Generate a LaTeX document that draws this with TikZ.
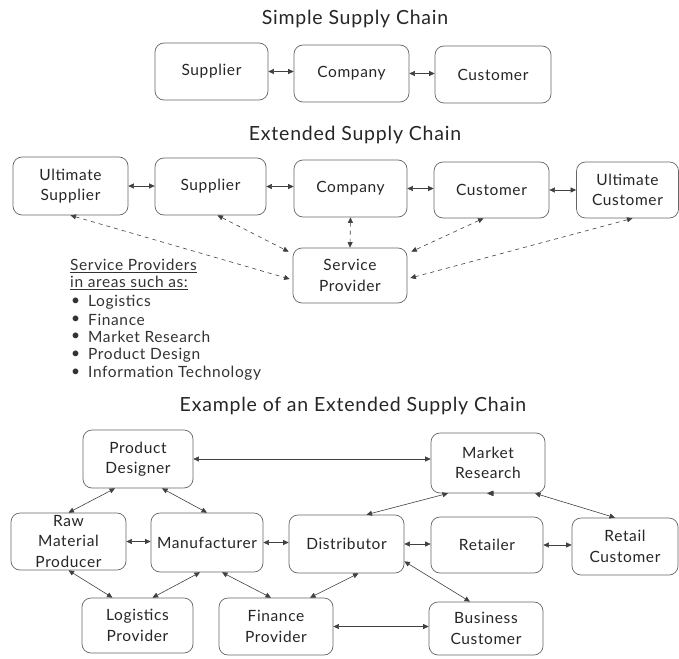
\documentclass[tikz,border=0pt]{standalone}
\usepackage{fontspec}
\setmainfont[LetterSpace=4]{Lato}
\usetikzlibrary{arrows.meta,calc}

\tikzset{
  box/.style={draw=black!60, line width=0.7pt, rounded corners=9pt, align=center,
    font=\fontsize{15.5}{20.5}\selectfont, text=black!85, inner sep=0pt},
  title/.style={font=\fontsize{19.5}{22}\selectfont, text=black!85},
  listtext/.style={font=\fontsize{15.5}{18}\selectfont, text=black!80, anchor=west, inner sep=0pt},
  link/.style={line width=0.6pt, draw=black!75,
    {Triangle[length=5.5pt,width=5pt]}-{Triangle[length=5.5pt,width=5pt]}},
  dlink/.style={link, dash pattern=on 4pt off 4pt},
}

\begin{document}
\begin{tikzpicture}[x=1pt,y=-1pt]
\useasboundingbox (0,0) rectangle (679,658);
\fill[white] (0,0) rectangle (679,658);

% ---------- Simple supply chain ----------
\node[title] (t1) at (355,19) {Simple Supply Chain};
\node[box, minimum width=113pt, minimum height=57pt] (ssup) at (211.5,71.5) {Supplier};
\node[box, minimum width=115pt, minimum height=57pt] (scom) at (351.5,73.5) {Company};
\node[box, minimum width=116pt, minimum height=57pt] (scus) at (493,74.5) {Customer};
\draw[link] (ssup.east) -- (ssup.east -| scom.west);
\draw[link] (scom.east) -- (scom.east -| scus.west);

% ---------- Extended supply chain ----------
\node[title] (t2) at (355,135) {Extended Supply Chain};
\node[box, minimum width=115pt, minimum height=58pt] (eus) at (70.5,186) {Ultimate\\Supplier};
\node[box, minimum width=111pt, minimum height=57pt] (esup) at (210.5,186.5) {Supplier};
\node[box, minimum width=113pt, minimum height=57pt] (ecom) at (350.5,188.5) {Company};
\node[box, minimum width=115pt, minimum height=56pt] (ecus) at (491.5,190) {Customer};
\node[box, minimum width=102pt, minimum height=56pt] (euc) at (627.5,190) {Ultimate\\Customer};
\node[box, minimum width=114pt, minimum height=55pt] (sp) at (350,275.5) {Service\\Provider};

\draw[link] (eus.east) -- (eus.east -| esup.west);
\draw[link] (esup.east) -- (esup.east -| ecom.west);
\draw[link] (ecom.east) -- (ecom.east -| ecus.west);
\draw[link] (ecus.east) -- (ecus.east -| euc.west);

\draw[dlink] (eus.south) -- ([xshift=-3pt,yshift=-3.5pt]sp.west);
\draw[dlink] ([xshift=7pt]esup.south) -- ([xshift=-4pt,yshift=-4pt]sp.north west);
\draw[dlink] (ecom.south) -- (sp.north);
\draw[dlink] ([xshift=-8pt]ecus.south) -- ([xshift=4pt,yshift=-4pt]sp.north east);
\draw[dlink] ([xshift=5pt]euc.south) -- ([xshift=3pt,yshift=-2.5pt]sp.east);

% service provider areas
\node[listtext] (l0) at (70,266) {\underline{Service Providers}};
\node[listtext] (l1) at (70,283) {\underline{in areas such as:}};
\node[listtext] (b1) at (71,302) {\textbullet};
\node[listtext] (b2) at (71,320) {\textbullet};
\node[listtext] (b3) at (71,337) {\textbullet};
\node[listtext] (b4) at (71,355) {\textbullet};
\node[listtext] (b5) at (71,373) {\textbullet};
\node[listtext] (i1) at (88,302) {Logistics};
\node[listtext] (i2) at (88,320) {Finance};
\node[listtext] (i3) at (88,337) {Market Research};
\node[listtext] (i4) at (88,355) {Product Design};
\node[listtext] (i5) at (88,373) {Information Technology};

% ---------- Example of an extended supply chain ----------
\node[title] (t3) at (353,406) {Example of an Extended Supply Chain};
\node[box, minimum width=110pt, minimum height=58pt] (pd) at (138,459) {Product\\Designer};
\node[box, minimum width=114pt, minimum height=60pt] (mr) at (488,463) {Market\\Research};
\node[box, minimum width=115pt, minimum height=57pt] (raw) at (68.5,541.5) {Raw\\Material\\Producer};
\node[box, minimum width=112pt, minimum height=59pt] (man) at (207,542.5) {Manufacturer};
\node[box, minimum width=115pt, minimum height=58pt] (dis) at (346.5,544) {Distributor};
\node[box, minimum width=112pt, minimum height=56pt] (ret) at (487,545) {Retailer};
\node[box, minimum width=106pt, minimum height=57pt] (rc) at (625,546.5) {Retail\\Customer};
\node[box, minimum width=111pt, minimum height=55pt] (log) at (137.5,625.5) {Logistics\\Provider};
\node[box, minimum width=114pt, minimum height=57pt] (fin) at (276,626.5) {Finance\\Provider};
\node[box, minimum width=114pt, minimum height=53pt] (bus) at (486,628.5) {Business\\Customer};

\draw[link] (pd.east) -- (pd.east -| mr.west);
\draw[link] ([xshift=-23pt]pd.south) -- (raw.north);
\draw[link] ([xshift=24pt]pd.south) -- (man.north);
\draw[link] ([xshift=-40pt]mr.south) -- ([xshift=20pt]dis.north);
\draw[dlink] (mr.south) -- (mr.south -| ret.north);
\draw[link] ([xshift=47pt]mr.south) -- ([xshift=-10pt]rc.north);

\draw[link] (raw.east) -- (raw.east -| man.west);
\draw[link] (man.east) -- (man.east -| dis.west);
\draw[link] (dis.east) -- (dis.east -| ret.west);
\draw[link] (ret.east) -- (ret.east -| rc.west);

\draw[link] (raw.south) -- ([xshift=-25pt]log.north);
\draw[link] ([xshift=-7pt]man.south) -- ([xshift=15pt]log.north);
\draw[link] ([xshift=15pt]man.south) -- ([xshift=-5pt]fin.north);
\draw[link] ([xshift=12pt]dis.south) -- ([xshift=34pt]fin.north);
\draw[link] ([yshift=12pt]dis.south east) -- ([xshift=-16pt]bus.north);
\draw[link] (fin.east) -- (fin.east -| bus.west);
\end{tikzpicture}
\end{document}
